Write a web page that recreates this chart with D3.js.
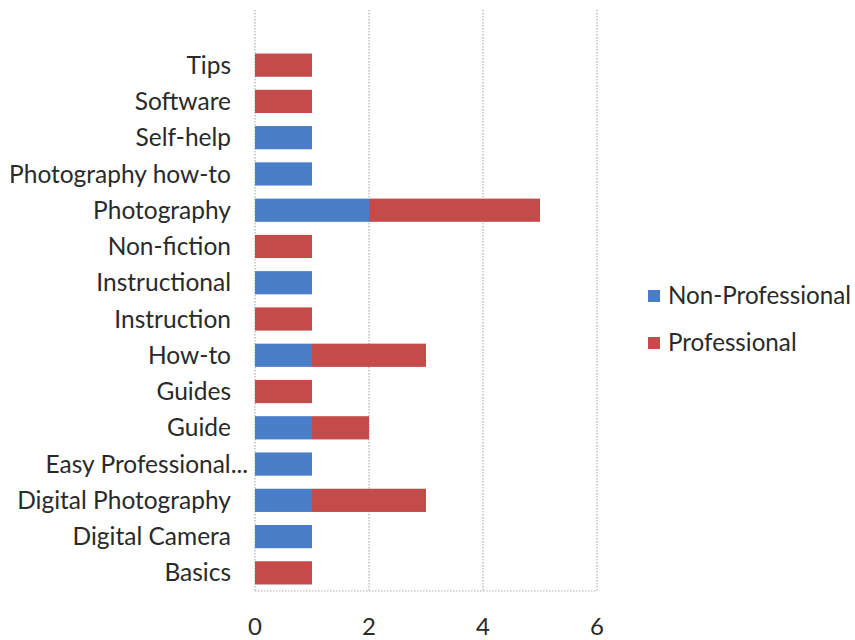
<!DOCTYPE html>
<html><head><meta charset="utf-8">
<script src="https://cdn.jsdelivr.net/npm/d3@7"></script>
<style>body{margin:0;background:#fff}svg{display:block}text{font-family:Lato,"Open Sans",sans-serif;fill:#2a2a2a}</style>
</head><body>
<svg id="c" width="855" height="640"></svg>
<script>
const categories = ["Tips","Software","Self-help","Photography how-to","Photography","Non-fiction","Instructional","Instruction","How-to","Guides","Guide","Easy Professional...","Digital Photography","Digital Camera","Basics"];
const nonProfessional = [0,0,1,1,2,0,1,0,1,0,1,1,1,1,0];
const professional    = [1,1,0,0,3,1,0,1,2,1,1,0,2,0,1];
const seriesNames = ["Non-Professional","Professional"];
const seriesColors = ["#4A7EC8","#C44B49"];
const xTicks = [0,2,4,6];

const svg = d3.select("#c");
const x = d3.scaleLinear().domain([0,6]).range([255,597]);
const y = d3.scaleBand().domain(categories).range([47,591]).paddingInner(0.36).paddingOuter(0.18);
const plotTop = 10, plotBottom = 591;

// gridlines
svg.append("g").selectAll("line").data(xTicks).join("line")
  .attr("x1",d=>x(d)).attr("x2",d=>x(d)).attr("y1",plotTop).attr("y2",plotBottom)
  .attr("stroke","#b0b0b0").attr("stroke-width",1.2).attr("stroke-dasharray","1.5,1.5");
svg.append("line").attr("x1",x(0)).attr("x2",x(6)).attr("y1",plotBottom).attr("y2",plotBottom)
  .attr("stroke","#b0b0b0").attr("stroke-width",1.2).attr("stroke-dasharray","1.5,1.5");

// stacked data
const rows = categories.map((c,i)=>({cat:c, np:nonProfessional[i], p:professional[i]}));
const stack = d3.stack().keys(["np","p"])(rows);
svg.append("g").selectAll("g").data(stack).join("g")
  .attr("fill",(d,i)=>seriesColors[i])
  .selectAll("rect").data(d=>d.filter(e=>e[1]-e[0]>0)).join("rect")
  .attr("x",d=>x(d[0])).attr("width",d=>x(d[1])-x(d[0]))
  .attr("y",d=>y(d.data.cat)).attr("height",y.bandwidth());

// category labels (truncated labels sit closer to the axis, as in the original)
svg.append("g").selectAll("text").data(categories).join("text")
  .attr("x",d=>d.endsWith("...")?248:231).attr("y",d=>y(d)+y.bandwidth()/2).attr("dy","0.35em")
  .attr("text-anchor","end").attr("font-size",24.5).text(d=>d);

// x tick labels
svg.append("g").selectAll("text").data(xTicks).join("text")
  .attr("x",d=>x(d)).attr("y",627).attr("dy","0.35em").attr("text-anchor","middle")
  .attr("font-size",24).text(d=>d);

// legend
const lg = svg.append("g").selectAll("g").data(seriesNames).join("g")
  .attr("transform",(d,i)=>`translate(648,${296+i*47})`);
lg.append("rect").attr("x",0).attr("y",-6).attr("width",12).attr("height",12).attr("fill",(d,i)=>seriesColors[i]);
lg.append("text").attr("x",20).attr("dy","0.35em").attr("font-size",24.2).text(d=>d);
</script>
</body></html>
